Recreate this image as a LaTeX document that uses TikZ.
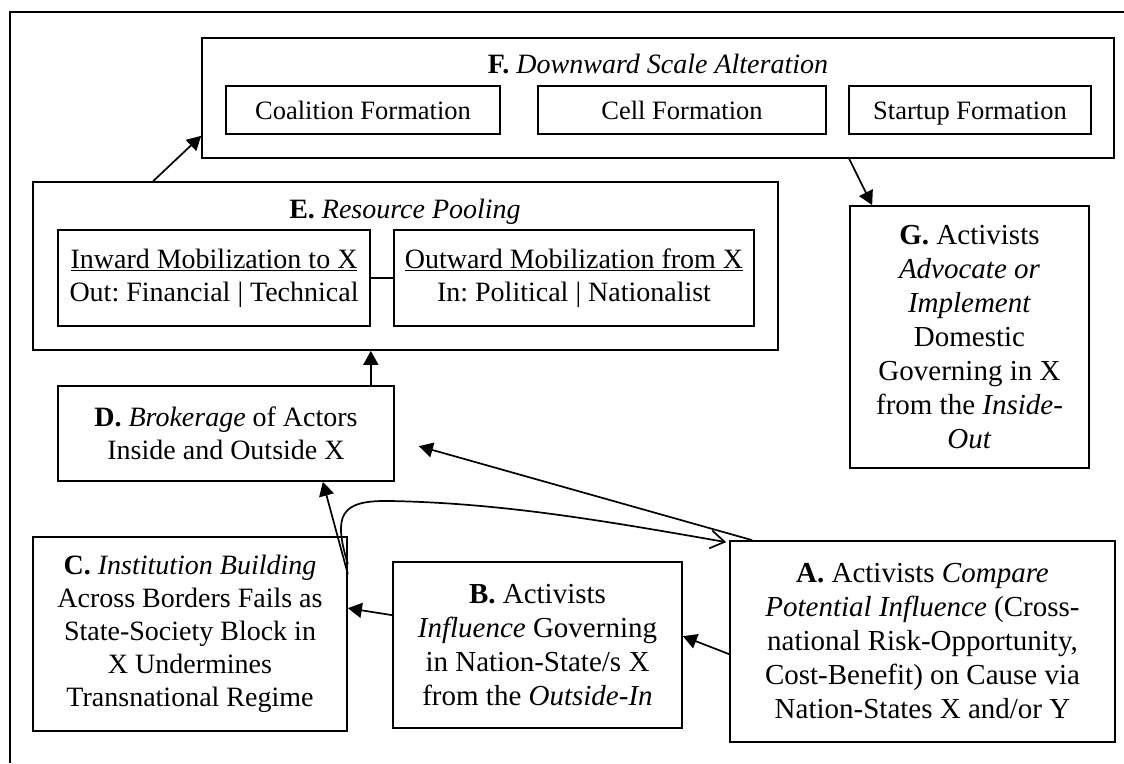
\documentclass[tikz,border=0pt]{standalone}
\usepackage{fontspec}
\setmainfont{Liberation Serif}
\frenchspacing
\usetikzlibrary{arrows.meta,calc}
\begin{document}
\begin{tikzpicture}[x=1pt,y=-1pt,
  every node/.style={font=\fontsize{28pt}{33pt}\selectfont},
  big/.style={font=\fontsize{29pt}{34pt}\selectfont},
  box/.style={draw, line width=1.7pt, inner sep=0pt, align=center},
  smallbox/.style={box, minimum height=48pt, text height=18pt, text depth=0pt,
    font=\fontsize{26.5pt}{31pt}\selectfont},
  arr/.style={line width=1.7pt, -{Triangle[length=14pt,width=15pt]}},
  openarr/.style={line width=1.7pt, -{Straight Barb[length=14pt,width=18pt,line width=1.7pt]}}]
\useasboundingbox (0,0) rectangle (1124,763);
% outer frame
\draw[line width=1.7pt] (10,763) -- (10,12) -- (1124,12);

% F: downward scale alteration
\node[box, minimum width=912pt, minimum height=120pt] (F) at (658,98) {};
\node[anchor=base] (Ftitle) at (658,73) {\textbf{F.} \textit{Downward Scale Alteration}};
\node[smallbox, minimum width=274pt] (coal) at (363,110) {Coalition Formation};
\node[smallbox, minimum width=288pt] (cell) at (682,110) {Cell Formation};
\node[smallbox, minimum width=242pt] (startup) at (970,110) {Startup Formation};

% E: resource pooling
\node[box, minimum width=745pt, minimum height=168pt] (E) at (405.5,266) {};
\node[anchor=base] (Etitle) at (405,218) {\textbf{E.} \textit{Resource Pooling}};
\node[box, minimum width=312pt, minimum height=96pt] (inward) at (214,278)
  {\underline{Inward Mobilization to X}\\Out: Financial | Technical};
\node[box, minimum width=360pt, minimum height=96pt] (outward) at (574,278)
  {\underline{Outward Mobilization from X}\\In: Political | Nationalist};
\draw[line width=1.7pt] (inward.east) -- (outward.west);

% D
\node[box, minimum width=336pt, minimum height=95pt] (D) at (226,433.5)
  {\textbf{D.} \textit{Brokerage} of Actors\\Inside and Outside X};

% G
\node[box, big, minimum width=239pt, minimum height=262pt] (G) at (969.5,337)
  {\textbf{G.} Activists\\\textit{Advocate or}\\\textit{Implement}\\Domestic\\Governing in X\\from the \textit{Inside-}\\\textit{Out}};

% C
\node[box, minimum width=314pt, minimum height=194pt] (C) at (190,634)
  {\textbf{C.} \textit{Institution Building}\\Across Borders Fails as\\State-Society Block in\\X Undermines\\Transnational Regime};

% B
\node[box, big, minimum width=289pt, minimum height=166pt] (B) at (537.5,645)
  {\textbf{B.} Activists\\\textit{Influence} Governing\\in Nation-State/s X\\from the \textit{Outside-In}};

% A
\node[box, big, minimum width=385pt, minimum height=201pt] (A) at (922.5,641.5)
  {\textbf{A.} Activists \textit{Compare}\\\textit{Potential Influence} (Cross-\\national Risk-Opportunity,\\Cost-Benefit) on Cause via\\Nation-States X and/or Y};

% connectors
\draw[arr] ([xshift=121pt]E.north west) -- ([yshift=23pt]F.south west);
\draw[arr] ([xshift=648pt]F.south west) -- ([xshift=23pt]G.north west);
\draw[arr] ([xshift=-24pt]D.north east) -- ([xshift=-24pt]D.north east |- E.south);
\draw[arr] ([yshift=-114pt]A.north west) -- ([yshift=-75pt]B.north east);
\draw[arr] ([yshift=-54pt]B.north west) -- ([yshift=-72pt]C.north east);
\draw[arr] ([xshift=23pt]A.north west) -- ([xshift=24pt,yshift=-61pt]D.north east);
\draw[arr] ([yshift=-38pt]C.north east) -- ([xshift=-72pt]D.south east);
\draw[openarr] ([yshift=-28pt]C.north east) .. controls (333,515) and (340,500) .. (390,501)
  .. controls (500,503) and (600,520) .. ([xshift=-3pt,yshift=-2pt]A.north west);
\end{tikzpicture}
\end{document}
